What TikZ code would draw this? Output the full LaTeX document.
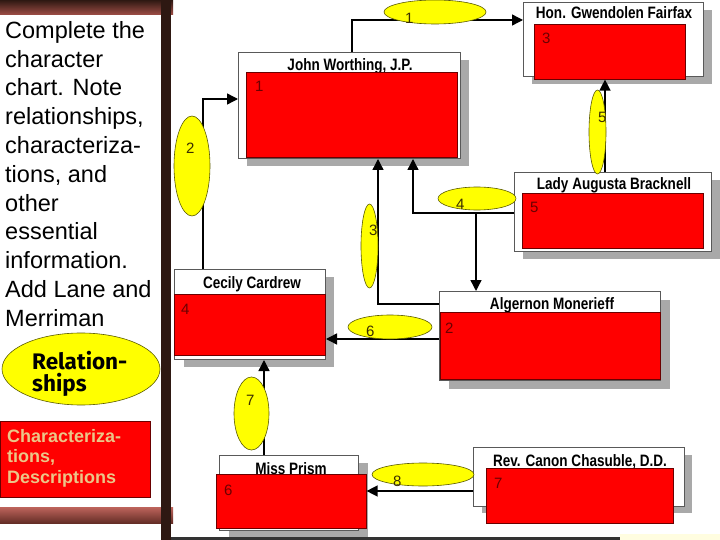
\documentclass[tikz,border=0pt]{standalone}
\usepackage{fontspec}
\setmainfont{Liberation Sans}
\newfontfamily\titlefont[FakeStretch=0.82]{Liberation Sans}
\newfontfamily\relfont{Fira Sans}
\usetikzlibrary{arrows.meta,shapes.geometric,calc}
\definecolor{boxred}{HTML}{FF0000}
\definecolor{shadowgray}{HTML}{A9A9A9}
\definecolor{ellfill}{HTML}{FFFF00}
\definecolor{ellline}{HTML}{5A5A00}
\definecolor{numred}{HTML}{6A0000}
\definecolor{numol}{HTML}{3A2E00}
\definecolor{bardark}{HTML}{2E1812}
\definecolor{tantext}{HTML}{EBC688}
\begin{document}
\begin{tikzpicture}[x=1pt,y=-1pt,
  outerbox/.style={draw=black!65, line width=1pt, fill=white, anchor=north west, inner sep=0pt},
  redbox/.style={draw=numred, line width=0.6pt, fill=boxred, anchor=north west, inner sep=0pt},
  boxtitle/.style={font=\titlefont\bfseries\fontsize{16.5}{18}\selectfont, inner sep=0pt, anchor=base},
  boxnum/.style={text=numred, font=\fontsize{15}{17}\selectfont, inner sep=0pt, anchor=base west},
  bubble/.style={ellipse, draw=ellline, line width=0.6pt, fill=ellfill, inner sep=0pt},
  bubnum/.style={text=numol, font=\fontsize{15}{17}\selectfont, inner sep=0pt, anchor=base west},
  conn/.style={line width=1.4pt, -{Triangle[length=11pt,width=11pt]}}]
\useasboundingbox (0,0) rectangle (720,540);
\fill[white] (0,0) rectangle (720,540);

% side decoration
\shade[top color=bardark, bottom color={rgb,255:red,160;green,78;blue,70}] (0,0) rectangle (173,15);
\shade[top color={rgb,255:red,190;green,100;blue,92}, bottom color={rgb,255:red,100;green,45;blue,38}] (0,507) rectangle (173,523);
\fill[bardark] (161,0) rectangle (171,540);
\fill[black!80] (171,537) rectangle (620,540);
\fill[yellow!12] (620,534) rectangle (720,540);

% instruction text
\node[anchor=north west, inner sep=0pt, align=left, font=\fontsize{23.5}{28.8}\selectfont] (instr) at (5,21)
  {Complete the\\character\\chart. Note\\relationships,\\characteriza-\\tions, and\\other\\essential\\information.\\Add Lane and\\Merriman};

\node[bubble, minimum width=158pt, minimum height=72pt] (relell) at (81,369) {};
\node[anchor=north west, inner sep=0pt, align=left, font=\relfont\bfseries\fontsize{22.5}{22}\selectfont] (reltext) at (32,351) {Relation-\\ships};

\node[redbox, minimum width=150pt, minimum height=76pt] (charbox) at (0,421) {};
\node[anchor=north west, inner sep=0pt, align=left, text=tantext, font=\bfseries\fontsize{18}{20.5}\selectfont] (chartext) at (7,429) {Characteriza-\\tions,\\Descriptions};

% shadows
\fill[shadowgray] (532,10) rectangle (712,84);
\fill[shadowgray] (247,60) rectangle (469,166);
\fill[shadowgray] (523,180) rectangle (720,259);
\fill[shadowgray] (184,277) rectangle (334,367);
\fill[shadowgray] (449,300) rectangle (670,389);
\fill[shadowgray] (229,463) rectangle (368,537);
\fill[shadowgray] (482,455) rectangle (692,513);

% boxes
\node[outerbox, minimum width=180pt, minimum height=74pt] (gwen) at (523,2) {};
\node[boxtitle] (gwent) at (614,18.5) {Hon. Gwendolen Fairfax};
\node[redbox, minimum width=151pt, minimum height=55pt] (gwenred) at (534,24) {};
\node[boxnum] (gwenn) at (542,44) {3};

\node[outerbox, minimum width=222pt, minimum height=106pt] (john) at (238,52) {};
\node[boxtitle] (johnt) at (350,70.5) {John Worthing, J.P.};
\node[redbox, minimum width=211pt, minimum height=85pt] (johnred) at (246,72) {};
\node[boxnum] (johnn) at (255,92) {1};

\node[outerbox, minimum width=197pt, minimum height=79pt] (lady) at (514,172) {};
\node[boxtitle] (ladyt) at (614,190) {Lady Augusta Bracknell};
\node[redbox, minimum width=181pt, minimum height=55pt] (ladyred) at (522,193) {};
\node[boxnum] (ladyn) at (530,213) {5};

\node[outerbox, minimum width=151pt, minimum height=90pt] (cecily) at (174,269) {};
\node[boxtitle] (cecilyt) at (252,288.5) {Cecily Cardrew};
\node[redbox, minimum width=151pt, minimum height=61pt] (cecilyred) at (174,294) {};
\node[boxnum] (cecilyn) at (181,314) {4};

\node[outerbox, minimum width=221pt, minimum height=89pt] (alg) at (439,291) {};
\node[boxtitle] (algt) at (552,309.5) {Algernon Monerieff};
\node[redbox, minimum width=220pt, minimum height=67pt] (algred) at (440,312) {};
\node[boxnum] (algn) at (445,333) {2};

\node[outerbox, minimum width=139pt, minimum height=75pt] (prism) at (219,455) {};
\node[boxtitle] (prismt) at (291,474) {Miss Prism};
\node[redbox, minimum width=150pt, minimum height=54pt] (prismred) at (216,474) {};
\node[boxnum] (prismn) at (224,495) {6};

\node[outerbox, minimum width=211pt, minimum height=59pt] (chas) at (473,447) {};
\node[boxtitle] (chast) at (580,466) {Rev. Canon Chasuble, D.D.};
\node[redbox, minimum width=187pt, minimum height=55pt] (chasred) at (486,468) {};
\node[boxnum] (chasn) at (494,488) {7};

% connectors
\coordinate (jg) at ($(john.north west)+(114,0)$);
\draw[conn] (jg) |- ($(gwen.north west)+(0,18)$);
\coordinate (cj) at ($(cecily.north west)+(29,0)$);
\draw[conn] (cj) |- ($(john.north west)+(0,47)$);
\coordinate (aj) at ($(alg.north west)+(0,13)$);
\draw[conn] (aj) -| ($(john.south west)+(140,0)$);
\coordinate (lj) at ($(lady.north west)+(0,41)$);
\draw[conn] (lj) -| ($(john.south west)+(175,0)$);
\coordinate (la) at ($(lady.north west)+(-38,41)$);
\draw[conn] (la) -- (la |- alg.north);
\coordinate (lg) at ($(lady.north west)+(91,0)$);
\draw[conn] (lg) -- (lg |- gwenred.south);
\coordinate (ac) at ($(alg.north west)+(0,48)$);
\draw[conn] (ac) -- (ac -| cecily.east);
\coordinate (pc) at ($(prism.north west)+(45,0)$);
\draw[conn] (pc) -- (pc |- cecily.south);
\coordinate (cp) at ($(chas.north west)+(0,44)$);
\draw[conn] (cp) -- (cp -| prismred.east);

% bubbles
\node[bubble, minimum width=102pt, minimum height=24pt] (e1) at (435,12) {};
\node[bubnum] (n1) at (405,24) {1};
\node[bubble, minimum width=17pt, minimum height=84pt] (e5) at (597.5,132) {};
\node[bubnum] (n5) at (598,123) {5};
\node[bubble, minimum width=36pt, minimum height=100pt] (e2) at (192,166) {};
\node[bubnum] (n2) at (186,154) {2};
\node[bubble, minimum width=78pt, minimum height=23pt] (e4) at (477,198.5) {};
\node[bubnum] (n4) at (456,210) {4};
\node[bubble, minimum width=17pt, minimum height=84pt] (e3) at (369.5,246) {};
\node[bubnum] (n3) at (369,236) {3};
\node[bubble, minimum width=84pt, minimum height=24pt] (e6) at (390,327) {};
\node[bubnum] (n6) at (366,336) {6};
\node[bubble, minimum width=35pt, minimum height=73pt] (e7) at (251.5,413.5) {};
\node[bubnum] (n7) at (246,405) {7};
\node[bubble, minimum width=102pt, minimum height=23pt] (e8) at (423,474.5) {};
\node[bubnum] (n8) at (393,486) {8};
\end{tikzpicture}
\end{document}
